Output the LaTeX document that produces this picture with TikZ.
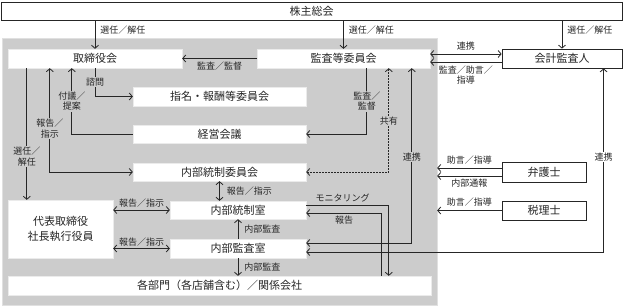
\documentclass[tikz,border=0pt]{standalone}
\usepackage{fontspec}
\setmainfont{Noto Sans CJK JP}
\usetikzlibrary{arrows.meta,calc}
\definecolor{greybg}{HTML}{CCCCCC}
\definecolor{ink}{HTML}{262626}
\tikzset{
  box/.style={fill=white, draw=white!92!black, inner sep=0pt, align=center, font=\fontsize{11}{15}\selectfont, text=ink},
  obox/.style={box, draw=ink, line width=0.8pt},
  lbl/.style={font=\fontsize{9}{10.5}\selectfont, inner sep=1pt, align=center, text=ink},
  glbl/.style={lbl, fill=greybg},
  wlbl/.style={lbl, fill=white},
  conn/.style={draw=ink, line width=0.8pt},
  arr/.style={conn, -{Straight Barb[length=3pt,width=7pt]}},
  arrs/.style={conn, {Straight Barb[length=3pt,width=7pt]}-{Straight Barb[length=3pt,width=7pt]}},
  dotline/.style={dash pattern=on 1.5pt off 1.5pt},
}
\begin{document}
\begin{tikzpicture}[x=1pt,y=-1pt]
\useasboundingbox (0,0) rectangle (624,307);
\fill[white] (0,0) rectangle (624,307);
% boxes
\node[obox, minimum width=621pt, minimum height=18pt] (soukai) at (311.5,11) {株主総会};
\node[fill=greybg, draw=black!12, inner sep=0pt, minimum width=435pt, minimum height=267pt] (grey) at (219.5,171.5) {};
\node[box, minimum width=174pt, minimum height=19pt] (tori) at (95,58.5) {取締役会};
\node[box, minimum width=173pt, minimum height=19pt] (kan) at (343.5,58.5) {監査等委員会};
\node[obox, minimum width=120pt, minimum height=19pt] (kaikei) at (562,58.5) {会計監査人};
\node[box, minimum width=173pt, minimum height=19pt] (shimei) at (219.5,96.5) {指名・報酬等委員会};
\node[box, minimum width=173pt, minimum height=18pt] (keiei) at (219.5,134) {経営会議};
\node[box, minimum width=173pt, minimum height=18pt] (ii) at (219.5,172) {内部統制委員会};
\node[box, minimum width=105pt, minimum height=58pt] (daihyo) at (60.5,229) {代表取締役\\社長執行役員};
\node[box, minimum width=136pt, minimum height=18pt] (tos) at (238,210) {内部統制室};
\node[box, minimum width=136pt, minimum height=19pt] (ks) at (238,248.5) {内部監査室};
\node[box, minimum width=423pt, minimum height=19pt] (kb) at (219.5,285.5) {各部門（各店舗含む）／関係会社};
\node[obox, minimum width=84pt, minimum height=20pt] (ben) at (544,172) {弁護士};
\node[obox, minimum width=84pt, minimum height=19pt] (zei) at (544,210.5) {税理士};
% helper coordinates
\coordinate (c27) at ($(tori.south west)+(19,0)$);
\coordinate (c50) at ($(tori.south west)+(42,0)$);
\coordinate (c72) at ($(tori.south west)+(64,0)$);
\coordinate (k367) at ($(kan.south west)+(110,0)$);
\coordinate (k389) at ($(kan.south west)+(132,0)$);
\coordinate (k412) at ($(kan.south west)+(155,0)$);
\coordinate (a604) at ($(kaikei.south west)+(102,0)$);
\coordinate (ks1) at ($(ks.east)+(0,-5.5)$);
\coordinate (ks2) at ($(ks.east)+(0,3.5)$);
\coordinate (kan1) at ($(kan.east)+(0,-4.5)$);
\coordinate (kan2) at ($(kan.east)+(0,3.5)$);
\coordinate (b1) at ($(ben.west)+(0,-4)$);
\coordinate (b2) at ($(ben.west)+(0,4)$);
\coordinate (t1) at ($(tos.east)+(0,-5)$);
\coordinate (t2) at ($(tos.east)+(0,3)$);
\coordinate (kb389) at ($(kb.north west)+(381,0)$);
\coordinate (kb382) at ($(kb.north west)+(374,0)$);
% connectors
\draw[arr] (soukai.south -| tori.north) -- (tori.north) node[lbl, pos=0.35, right=4pt] (l1) {選任／解任};
\draw[arr] (soukai.south -| kan.north) -- (kan.north) node[lbl, pos=0.35, right=4pt] (l2) {選任／解任};
\draw[arr] (soukai.south -| kaikei.north) -- (kaikei.north) node[lbl, pos=0.35, right=4pt] (l3) {選任／解任};
\draw[arr] (kan.west) -- (tori.east) node[lbl, midway, below=2pt] (l4) {監査／監督};
\draw[arrs] (kan1) -- (kan1 -| kaikei.west) node[lbl, midway, above=2pt] (l5) {連携};
\draw[arr] (kan2 -| kaikei.west) -- (kan2) node[lbl, midway, below=2pt] (l6) {監査／助言／\\指導};
\draw[arr] (tori.south) |- (shimei.west) node[glbl, pos=0.25] (l7) {諮問};
\draw[arr] (keiei.west) -| (c72) node[glbl, pos=0.75] (l8) {付議／\\提案};
\draw[arrs] (c50) |- (ii.west) node[glbl, pos=0.29] (l9) {報告／\\指示};
\draw[arr] (c27) -- (c27 |- daihyo.north) node[glbl, pos=0.67] (l10) {選任／\\解任};
\draw[arr] (k367) |- (keiei.east) node[glbl, pos=0.25] (l11) {監査／\\監督};
\draw[arrs, dotline] (k389) |- (ii.east) node[glbl, pos=0.255] (l12) {共有};
\draw[arrs] (k412) |- (ks1) node[glbl, pos=0.254] (l13) {連携};
\draw[arrs] (a604) |- (ks2) node[wlbl, pos=0.242] (l14) {連携};
\draw[arr] (b1) -- (b1 -| grey.east) node[lbl, midway, above=2pt] (l15) {助言／指導};
\draw[arr] (b2) -- (b2 -| grey.east) node[lbl, midway, below=2pt] (l16) {内部通報};
\draw[arr] (zei.west) -- (zei.west -| grey.east) node[lbl, midway, above=3pt] (l17) {助言／指導};
\draw[arrs] (ii.south) -- (ii.south |- tos.north) node[lbl, midway, right=6pt] (l18) {報告／指示};
\draw[arrs] (daihyo.east |- tos.west) -- (tos.west) node[lbl, midway, above=1pt] (l19) {報告／指示};
\draw[arrs] (daihyo.east |- ks.west) -- (ks.west) node[lbl, midway, above=1pt] (l20) {報告／指示};
\draw[arr] (ks.north) -- (tos.south) node[lbl, midway, right=5pt] (l21) {内部監査};
\draw[arr] (ks.south) -- (ks.south |- kb.north) node[lbl, midway, right=5pt] (l22) {内部監査};
\draw[arr] (t1) -| (kb389) node[lbl, pos=0.22, above=1pt] (l23) {モニタリング};
\draw[arr] (kb382) |- (t2) node[lbl, pos=0.75, below=2pt] (l24) {報告};
\end{tikzpicture}
\end{document}
